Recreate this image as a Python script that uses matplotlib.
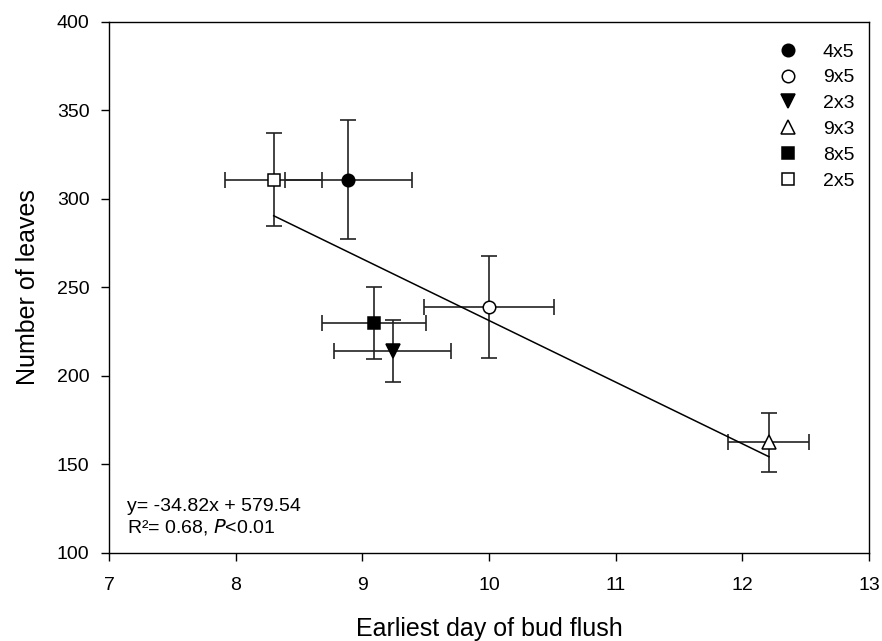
import matplotlib
matplotlib.use("Agg")
import matplotlib.pyplot as plt
import numpy as np

plt.rcParams['font.family'] = ['Liberation Sans', 'DejaVu Sans']

# treatments
labels = ['4x5', '9x5', '2x3', '9x3', '8x5', '2x5']
bud_flush = [8.89, 10.0, 9.24, 12.21, 9.09, 8.30]
bud_err = [0.50, 0.51, 0.46, 0.32, 0.41, 0.385]
leaves = [311, 239, 214, 162.5, 230, 311]
leaves_err = [33.7, 28.7, 17.6, 16.5, 20.5, 26]

markers = ['o', 'o', 'v', '^', 's', 's']
faces = ['black', 'white', 'black', 'white', 'black', 'white']
sizes = [9, 9, 9.5, 9.5, 8, 8]

slope = -34.82
intercept = 579.54

fig = plt.figure(figsize=(8.82, 6.41), dpi=100)
ax = fig.add_axes([0.1236, 0.1373, 0.8617, 0.8284])

for i in range(len(labels)):
    ax.errorbar(bud_flush[i], leaves[i], xerr=bud_err[i], yerr=leaves_err[i],
                fmt='none', ecolor='#222222', elinewidth=1.2, capsize=6,
                capthick=1.2, zorder=2)

# regression line over the range of the points
xs = np.array([min(bud_flush), max(bud_flush)])
ax.plot(xs, slope * xs + intercept, color='black', lw=1.1, zorder=3)

for i in range(len(labels)):
    ax.plot(bud_flush[i], leaves[i], linestyle='none', marker=markers[i],
            markersize=sizes[i], markerfacecolor=faces[i],
            markeredgecolor='black', markeredgewidth=1.1, label=labels[i],
            zorder=4)

ax.set_xlim(7, 13)
ax.set_ylim(100, 400)
ax.set_xticks(range(7, 14))
ax.set_yticks(range(100, 401, 50))
ax.tick_params(direction='out', length=6, width=1, labelsize=14)
ax.tick_params(axis='x', pad=11)
ax.tick_params(axis='y', pad=8)
ax.tick_params(top=False, right=False)
for s in ax.spines.values():
    s.set_linewidth(1)

ax.set_xlabel('Earliest day of bud flush', fontsize=18, labelpad=17)
ax.set_ylabel('Number of leaves', fontsize=18, labelpad=12)

ax.text(7.14, 123.5, 'y= -34.82x + 579.54', fontsize=14, va='baseline')
ax.text(7.14, 111.3, 'R²= 0.68, $\\it{P}$<0.01', fontsize=14, va='baseline')

leg = ax.legend(loc='upper right', bbox_to_anchor=(0.991, 0.975),
                frameon=False, fontsize=14, handletextpad=0.8,
                labelspacing=0.42, borderaxespad=0)

fig.savefig('out.png', dpi=100)
